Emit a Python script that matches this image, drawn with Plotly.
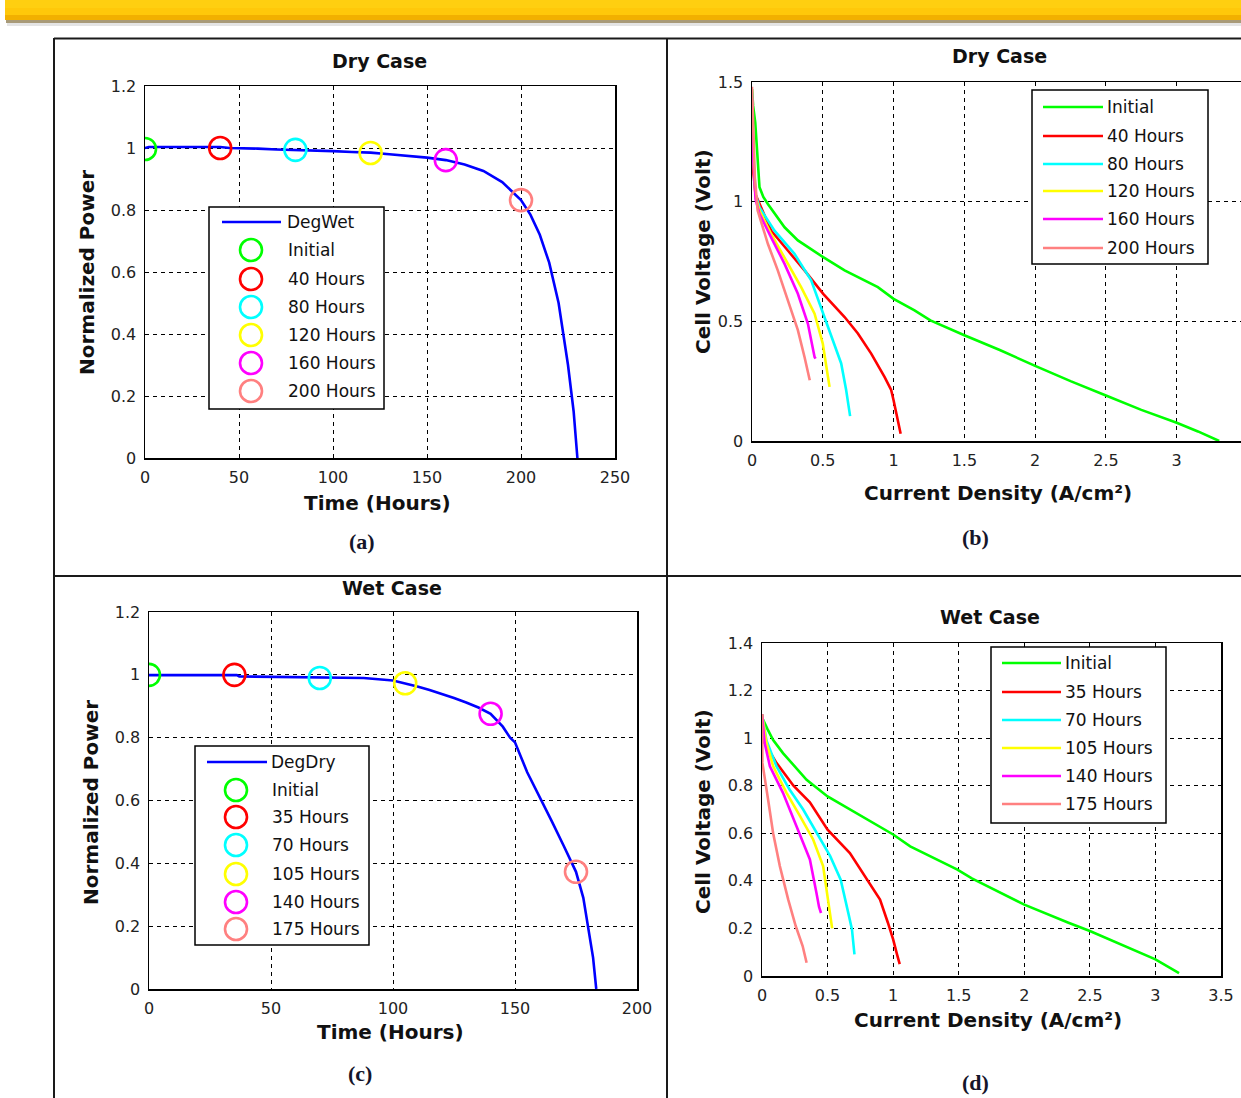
import plotly.graph_objects as go

W, H = 1241, 1098

# ---------------- data ----------------
# (a) Dry case: normalized power vs time (DegWet model)
time_a = [0, 2, 10, 20, 30, 40, 45, 50, 60, 70, 80, 90, 100, 110, 120, 130, 140,
          150, 160, 170, 180, 190, 200, 205, 210, 215, 220, 225, 228, 230]
power_a = [1.0, 1.003, 1.003, 1.003, 1.003, 1.003, 1.0, 1.0, 0.998, 0.995, 0.994,
           0.992, 0.99, 0.987, 0.985, 0.98, 0.975, 0.969, 0.961, 0.947, 0.926,
           0.89, 0.832, 0.785, 0.72, 0.63, 0.5, 0.3, 0.15, 0.0]
check_hours_a = [0, 40, 80, 120, 160, 200]
check_power_a = [0.997, 1.0, 0.994, 0.984, 0.961, 0.832]
check_names_a = ["Initial", "40 Hours", "80 Hours", "120 Hours", "160 Hours", "200 Hours"]

# (c) Wet case: normalized power vs time (DegDry model)
time_c = [0, 36, 37, 70, 88, 100, 105, 110, 115, 120, 125, 130, 135, 140, 145,
          148, 150, 155, 160, 165, 170, 173.5, 175, 178, 180, 182, 183.3]
power_c = [0.999, 0.999, 0.995, 0.993, 0.99, 0.982, 0.973, 0.963, 0.952, 0.94,
           0.926, 0.912, 0.896, 0.876, 0.835, 0.8, 0.785, 0.69, 0.615, 0.535,
           0.455, 0.4, 0.373, 0.29, 0.2, 0.1, 0.0]
check_hours_c = [0, 35, 70, 105, 140, 175]
check_power_c = [1.0, 1.0, 0.99, 0.973, 0.876, 0.373]
check_names_c = ["Initial", "35 Hours", "70 Hours", "105 Hours", "140 Hours", "175 Hours"]

# (b) Dry case polarization curves
names_b = ["Initial", "40 Hours", "80 Hours", "120 Hours", "160 Hours", "200 Hours"]
current_b = [
    [0, 0.008, 0.023, 0.04, 0.053, 0.08, 0.112, 0.23, 0.324, 0.503, 0.654, 0.889,
     1.0, 1.148, 1.26, 1.5, 1.75, 2.0, 2.25, 2.5, 2.75, 3.0, 3.15, 3.3],
    [0, 0.01, 0.025, 0.053, 0.135, 0.253, 0.371, 0.503, 0.654, 0.748, 0.842,
     0.936, 0.983, 1.0, 1.03, 1.05],
    [0, 0.01, 0.025, 0.053, 0.159, 0.3, 0.418, 0.503, 0.56, 0.63, 0.665, 0.693],
    [0, 0.01, 0.025, 0.053, 0.135, 0.253, 0.347, 0.442, 0.5, 0.536, 0.548],
    [0, 0.01, 0.025, 0.053, 0.135, 0.23, 0.324, 0.395, 0.442, 0.449],
    [0, 0.008, 0.02, 0.04, 0.112, 0.182, 0.253, 0.324, 0.371, 0.395, 0.408],
]
voltage_b = [
    [1.47, 1.40, 1.33, 1.15, 1.06, 1.02, 0.99, 0.893, 0.838, 0.768, 0.713, 0.643,
     0.594, 0.546, 0.504, 0.442, 0.38, 0.314, 0.25, 0.19, 0.13, 0.076, 0.04, 0.0],
    [1.28, 1.12, 1.03, 0.99, 0.879, 0.796, 0.713, 0.615, 0.518, 0.449, 0.365,
     0.268, 0.213, 0.17, 0.09, 0.03],
    [1.45, 1.2, 1.03, 0.976, 0.879, 0.782, 0.671, 0.532, 0.435, 0.324, 0.213, 0.104],
    [1.42, 1.18, 1.02, 0.963, 0.865, 0.74, 0.643, 0.532, 0.407, 0.27, 0.226],
    [1.43, 1.17, 1.01, 0.949, 0.851, 0.74, 0.615, 0.49, 0.351, 0.344],
    [1.48, 1.3, 1.1, 0.963, 0.824, 0.713, 0.588, 0.463, 0.351, 0.28, 0.254],
]
ticks_b = [0, 0.5, 1, 1.5, 2, 2.5, 3]

# (d) Wet case polarization curves
names_d = ["Initial", "35 Hours", "70 Hours", "105 Hours", "140 Hours", "175 Hours"]
current_d = [
    [0, 0.003, 0.04, 0.085, 0.16, 0.34, 0.5, 0.67, 1.0, 1.13, 1.49, 1.6, 2.0,
     2.337, 2.5, 3.0, 3.18],
    [0, 0.02, 0.11, 0.24, 0.365, 0.5, 0.67, 0.8, 0.9, 0.96, 1.0, 1.03, 1.05],
    [0, 0.034, 0.11, 0.21, 0.314, 0.42, 0.52, 0.6, 0.632, 0.66, 0.686, 0.705],
    [0, 0.034, 0.085, 0.187, 0.29, 0.39, 0.466, 0.505, 0.52, 0.535],
    [0, 0.02, 0.06, 0.16, 0.263, 0.365, 0.415, 0.435, 0.45],
    [0, 0.0, 0.003, 0.047, 0.085, 0.136, 0.2, 0.257, 0.31, 0.34],
]
voltage_d = [
    [1.1, 1.083, 1.04, 0.992, 0.937, 0.825, 0.755, 0.7, 0.595, 0.545, 0.447,
     0.41, 0.30, 0.224, 0.189, 0.07, 0.012],
    [1.1, 0.98, 0.896, 0.8, 0.73, 0.615, 0.517, 0.405, 0.321, 0.224, 0.154, 0.09, 0.05],
    [1.1, 0.99, 0.882, 0.784, 0.7, 0.6, 0.504, 0.405, 0.321, 0.26, 0.196, 0.091],
    [1.1, 0.98, 0.882, 0.77, 0.672, 0.574, 0.462, 0.321, 0.26, 0.2],
    [1.1, 0.98, 0.882, 0.77, 0.63, 0.49, 0.35, 0.29, 0.265],
    [1.1, 0.95, 0.896, 0.74, 0.6, 0.462, 0.321, 0.21, 0.126, 0.056],
]

series_colors = ["#00ff00", "#ff0000", "#00ffff", "#ffff00", "#ff00ff", "#ff8080"]
curve_color = "#0000ff"


# ---------------- helpers ----------------
def px(x):
    return x / W


def py(y):
    return 1 - y / H


TICK_FONT = dict(family="DejaVu Sans", size=16, color="#222222")
LEG_FONT = dict(family="DejaVu Sans", size=17, color="#111111")
AX_TITLE_FONT = dict(family="DejaVu Sans", size=20, color="#111111", weight="bold")
PANEL_TITLE_FONT = dict(family="DejaVu Sans", size=19, color="#111111", weight="bold")
TAG_FONT = dict(family="Liberation Serif", size=22, color="#15152a", weight="bold")


def make_axis(domain, rng, dtick, anchor):
    # automargin off: every panel is placed by its pixel domain, margins stay at zero
    return dict(domain=domain, range=rng, dtick=dtick, tick0=0, anchor=anchor,
                automargin=False,
                showgrid=True, gridcolor="black", griddash="4px,4px", gridwidth=1,
                showline=True, linecolor="black", linewidth=1.5, mirror=True,
                ticks="", zeroline=False, tickfont=TICK_FONT, fixedrange=True,
                ticklabelstandoff=4)


fig = go.Figure()

# ---------------- traces ----------------
# (a)
fig.add_trace(go.Scatter(x=time_a, y=power_a, mode="lines", name="DegWet",
                         line=dict(color=curve_color, width=2.6),
                         xaxis="x", yaxis="y", showlegend=False))
for i in range(len(check_hours_a)):
    fig.add_trace(go.Scatter(x=[check_hours_a[i]], y=[check_power_a[i]], mode="markers",
                             name=check_names_a[i], xaxis="x", yaxis="y", showlegend=False,
                             marker=dict(symbol="circle-open", size=22, color=series_colors[i],
                                         line=dict(width=2.6))))
# (b)
for i in range(len(names_b)):
    fig.add_trace(go.Scatter(x=current_b[i], y=voltage_b[i], mode="lines", name=names_b[i],
                             line=dict(color=series_colors[i], width=2.6),
                             xaxis="x2", yaxis="y2", showlegend=False))
# (c)
fig.add_trace(go.Scatter(x=time_c, y=power_c, mode="lines", name="DegDry",
                         line=dict(color=curve_color, width=2.6),
                         xaxis="x3", yaxis="y3", showlegend=False))
for i in range(len(check_hours_c)):
    fig.add_trace(go.Scatter(x=[check_hours_c[i]], y=[check_power_c[i]], mode="markers",
                             name=check_names_c[i], xaxis="x3", yaxis="y3", showlegend=False,
                             marker=dict(symbol="circle-open", size=22, color=series_colors[i],
                                         line=dict(width=2.6))))
# (d)
for i in range(len(names_d)):
    fig.add_trace(go.Scatter(x=current_d[i], y=voltage_d[i], mode="lines", name=names_d[i],
                             line=dict(color=series_colors[i], width=2.6),
                             xaxis="x4", yaxis="y4", showlegend=False))

# ---------------- axes ----------------
# panel (b) runs past the right page edge; its 0..3.5 axis is cut at the edge
b_right = 3.5 * (W - 752) / (1247.5 - 752)
xaxis_b = make_axis([px(752), 1.0], [0, b_right], 0.5, "y2")
xaxis_b.update(tickmode="array", tickvals=ticks_b, ticktext=[f"{t:g}" for t in ticks_b])
fig.update_layout(
    xaxis=make_axis([px(145), px(615)], [0, 250], 50, "y"),
    yaxis=make_axis([py(458), py(86)], [0, 1.2], 0.2, "x"),
    xaxis2=xaxis_b,
    yaxis2=make_axis([py(441), py(82)], [0, 1.5], 0.5, "x2"),
    xaxis3=make_axis([px(149), px(637)], [0, 200], 50, "y3"),
    yaxis3=make_axis([py(989), py(612)], [0, 1.2], 0.2, "x3"),
    xaxis4=make_axis([px(762), px(1221)], [0, 3.5], 0.5, "y4"),
    yaxis4=make_axis([py(976), py(643)], [0, 1.4], 0.2, "x4"),
)

shapes = []
annotations = []

# ---------------- page decoration ----------------
# header banner with its drop shadow
shapes += [
    dict(type="rect", xref="paper", yref="paper", x0=px(7), x1=1, y0=py(26), y1=py(20),
         line=dict(width=0), fillcolor="#e4e4e4", layer="above"),
    dict(type="rect", xref="paper", yref="paper", x0=px(6), x1=1, y0=py(23), y1=py(19),
         line=dict(width=0), fillcolor="#a89a78", layer="above"),
    dict(type="rect", xref="paper", yref="paper", x0=px(5), x1=1, y0=py(20), y1=1,
         line=dict(width=0), fillcolor="#ffc80a", layer="above"),
    dict(type="rect", xref="paper", yref="paper", x0=px(5), x1=1, y0=py(20), y1=py(15),
         line=dict(width=0), fillcolor="#f2b000", layer="above"),
    dict(type="rect", xref="paper", yref="paper", x0=px(5), x1=1, y0=py(8), y1=1,
         line=dict(width=0), fillcolor="#ffcf10", layer="above"),
]

# table rules framing the four panels
rule = dict(color="#1a1a1a", width=2)
shapes += [
    dict(type="line", xref="paper", yref="paper", x0=px(54), x1=px(54), y0=0, y1=py(38), line=rule),
    dict(type="line", xref="paper", yref="paper", x0=px(667), x1=px(667), y0=0, y1=py(38), line=rule),
    dict(type="line", xref="paper", yref="paper", x0=px(54), x1=1, y0=py(38.5), y1=py(38.5), line=rule),
    dict(type="line", xref="paper", yref="paper", x0=px(54), x1=1, y0=py(576), y1=py(576), line=rule),
]


# ---------------- legends ----------------
def legend_box(x0, y0, x1, y1):
    shapes.append(dict(type="rect", xref="paper", yref="paper", x0=px(x0), x1=px(x1),
                       y0=py(y1), y1=py(y0), line=dict(color="black", width=1.5),
                       fillcolor="white", layer="above"))


def legend_line(xa, xb, y, color, text, tx):
    shapes.append(dict(type="line", xref="paper", yref="paper", x0=px(xa), x1=px(xb),
                       y0=py(y), y1=py(y), line=dict(color=color, width=2.6), layer="above"))
    annotations.append(dict(xref="paper", yref="paper", x=px(tx), y=py(y), text=text,
                            showarrow=False, xanchor="left", yanchor="middle", font=LEG_FONT))


def legend_circle(cx, y, color, text, tx):
    r = 11
    shapes.append(dict(type="circle", xref="paper", yref="paper", x0=px(cx - r), x1=px(cx + r),
                       y0=py(y + r), y1=py(y - r), line=dict(color=color, width=2.6),
                       fillcolor="rgba(0,0,0,0)", layer="above"))
    annotations.append(dict(xref="paper", yref="paper", x=px(tx), y=py(y), text=text,
                            showarrow=False, xanchor="left", yanchor="middle", font=LEG_FONT))


# (a)
legend_box(209, 207, 384, 409)
rows_a = [222, 250, 279, 307, 335, 363, 391]
legend_line(222, 281, rows_a[0], curve_color, "DegWet", 285)
for i, name in enumerate(check_names_a):
    legend_circle(251, rows_a[i + 1], series_colors[i], name, 286)

# (b)
legend_box(1032, 90, 1208, 264)
rows_b = [107, 136, 164, 191, 219, 248]
for i, name in enumerate(names_b):
    legend_line(1043, 1103, rows_b[i], series_colors[i], name, 1105)

# (c)
legend_box(195, 746, 369, 945)
rows_c = [762, 790, 817, 845, 874, 902, 929]
legend_line(207, 267, rows_c[0], curve_color, "DegDry", 269)
for i, name in enumerate(check_names_c):
    legend_circle(236, rows_c[i + 1], series_colors[i], name, 270)

# (d)
legend_box(991, 647, 1166, 823)
rows_d = [663, 692, 720, 748, 776, 804]
for i, name in enumerate(names_d):
    legend_line(1002, 1061, rows_d[i], series_colors[i], name, 1063)


# ---------------- titles and labels ----------------
def label(x, y, text, font, angle=0, yanchor="middle"):
    annotations.append(dict(xref="paper", yref="paper", x=px(x), y=py(y), text=text,
                            showarrow=False, xanchor="center", yanchor=yanchor,
                            textangle=angle, font=font))


label(379, 61, "Dry Case", PANEL_TITLE_FONT)
label(999, 56, "Dry Case", PANEL_TITLE_FONT)
label(392, 588, "Wet Case", PANEL_TITLE_FONT)
label(990, 617, "Wet Case", PANEL_TITLE_FONT)

label(377, 503, "Time (Hours)", AX_TITLE_FONT)
label(998, 493, "Current Density (A/cm\u00b2)", AX_TITLE_FONT)
label(390, 1032, "Time (Hours)", AX_TITLE_FONT)
label(988, 1020, "Current Density (A/cm\u00b2)", AX_TITLE_FONT)

label(87, 273, "Normalized Power", AX_TITLE_FONT, -90)
label(703, 252, "Cell Voltage (Volt)", AX_TITLE_FONT, -90)
label(91, 803, "Normalized Power", AX_TITLE_FONT, -90)
label(703, 812, "Cell Voltage (Volt)", AX_TITLE_FONT, -90)

label(362, 541, "(a)", TAG_FONT)
label(975, 537, "(b)", TAG_FONT)
label(360, 1073, "(c)", TAG_FONT)
label(975, 1097, "(d)", TAG_FONT, yanchor="bottom")

fig.update_layout(
    width=W, height=H, autosize=False,
    margin=dict(l=0, r=0, t=0, b=0, pad=0, autoexpand=False),
    paper_bgcolor="white", plot_bgcolor="white",
    showlegend=False,
    shapes=shapes, annotations=annotations,
)

fig.write_html("out.html", config={"displayModeBar": False, "staticPlot": True})
